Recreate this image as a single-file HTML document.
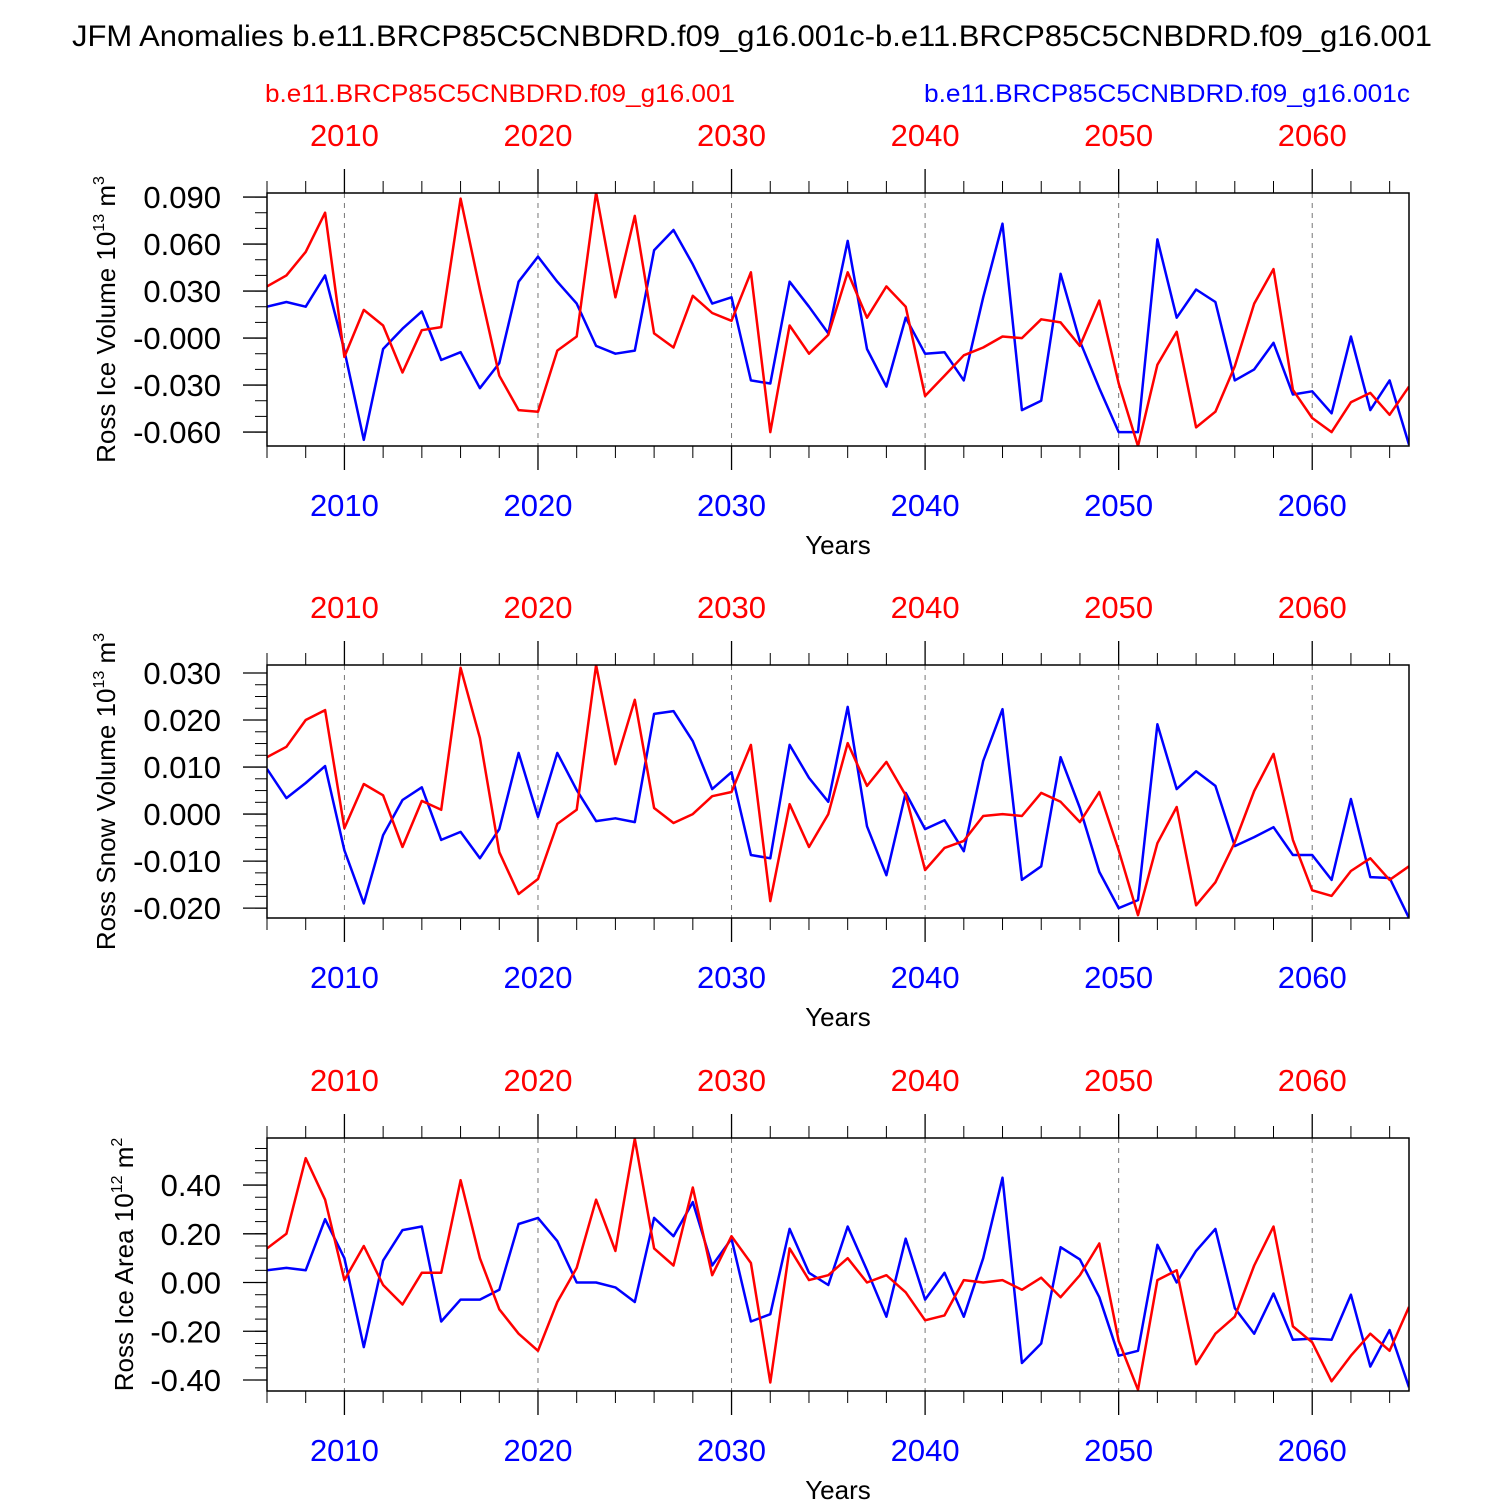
<!DOCTYPE html>
<html><head><meta charset="utf-8"><style>
body{margin:0;background:#fff}
svg{display:block;font-family:"Liberation Sans",Arial,sans-serif}
</style></head><body>
<svg id="c" width="1500" height="1500" viewBox="0 0 1500 1500">
<text x="752" y="46" font-size="30" text-anchor="middle" textLength="1360" lengthAdjust="spacingAndGlyphs">JFM Anomalies b.e11.BRCP85C5CNBDRD.f09_g16.001c-b.e11.BRCP85C5CNBDRD.f09_g16.001</text>
<text x="500" y="102" font-size="25" fill="#ff0000" text-anchor="middle" textLength="470" lengthAdjust="spacingAndGlyphs">b.e11.BRCP85C5CNBDRD.f09_g16.001</text>
<text x="1167" y="102" font-size="25" fill="#0000ff" text-anchor="middle" textLength="486" lengthAdjust="spacingAndGlyphs">b.e11.BRCP85C5CNBDRD.f09_g16.001c</text>
</svg>
<script>
const years=[];for(let y=2006;y<=2065;y++)years.push(y);
const iceVolRed=[0.033,0.040,0.055,0.080,-0.012,0.018,0.008,-0.022,0.005,0.007,0.089,0.031,-0.024,-0.046,-0.047,-0.008,0.001,0.093,0.026,0.078,0.003,-0.006,0.027,0.016,0.011,0.042,-0.060,0.008,-0.010,0.002,0.042,0.013,0.033,0.020,-0.037,-0.024,-0.011,-0.006,0.001,0.000,0.012,0.010,-0.005,0.024,-0.029,-0.069,-0.017,0.004,-0.057,-0.047,-0.018,0.022,0.044,-0.033,-0.051,-0.060,-0.041,-0.035,-0.049,-0.031];
const iceVolBlue=[0.020,0.023,0.020,0.040,-0.008,-0.065,-0.007,0.006,0.017,-0.014,-0.009,-0.032,-0.016,0.036,0.052,0.036,0.022,-0.005,-0.010,-0.008,0.056,0.069,0.047,0.022,0.026,-0.027,-0.029,0.036,0.020,0.003,0.062,-0.007,-0.031,0.013,-0.010,-0.009,-0.027,0.026,0.073,-0.046,-0.040,0.041,-0.002,-0.032,-0.060,-0.060,0.063,0.013,0.031,0.023,-0.027,-0.020,-0.003,-0.036,-0.034,-0.048,0.001,-0.046,-0.027,-0.068];
const snowRed=[0.0121,0.0143,0.0200,0.0221,-0.0030,0.0064,0.0040,-0.0070,0.0028,0.0009,0.0311,0.0162,-0.0081,-0.0170,-0.0138,-0.0021,0.0009,0.0317,0.0106,0.0243,0.0013,-0.0019,0.0000,0.0038,0.0047,0.0147,-0.0185,0.0021,-0.0070,0.0000,0.0151,0.0060,0.0111,0.0040,-0.0119,-0.0072,-0.0057,-0.0004,0.0000,-0.0004,0.0045,0.0026,-0.0017,0.0047,-0.0077,-0.0215,-0.0062,0.0015,-0.0194,-0.0145,-0.0060,0.0049,0.0128,-0.0055,-0.0162,-0.0174,-0.0121,-0.0094,-0.0140,-0.0111];
const snowBlue=[0.0096,0.0034,0.0066,0.0102,-0.0077,-0.0190,-0.0045,0.0030,0.0057,-0.0055,-0.0038,-0.0094,-0.0032,0.0130,-0.0006,0.0130,0.0051,-0.0015,-0.0009,-0.0017,0.0213,0.0219,0.0155,0.0053,0.0089,-0.0087,-0.0094,0.0147,0.0077,0.0026,0.0228,-0.0026,-0.0130,0.0045,-0.0032,-0.0013,-0.0079,0.0113,0.0223,-0.0140,-0.0111,0.0121,0.0013,-0.0123,-0.0200,-0.0183,0.0191,0.0053,0.0091,0.0060,-0.0068,-0.0049,-0.0028,-0.0087,-0.0087,-0.0140,0.0032,-0.0134,-0.0136,-0.0221];
const areaRed=[0.14,0.20,0.51,0.34,0.01,0.15,-0.01,-0.09,0.04,0.04,0.42,0.10,-0.11,-0.21,-0.28,-0.08,0.06,0.34,0.13,0.59,0.14,0.07,0.39,0.03,0.19,0.08,-0.41,0.14,0.01,0.03,0.10,0.00,0.03,-0.04,-0.155,-0.135,0.01,0.00,0.01,-0.03,0.02,-0.06,0.03,0.16,-0.24,-0.44,0.01,0.05,-0.335,-0.21,-0.14,0.07,0.23,-0.18,-0.245,-0.405,-0.30,-0.21,-0.28,-0.10];
const areaBlue=[0.05,0.06,0.05,0.26,0.10,-0.265,0.09,0.215,0.23,-0.16,-0.07,-0.07,-0.03,0.24,0.265,0.17,0.00,0.00,-0.02,-0.08,0.265,0.19,0.33,0.07,0.18,-0.16,-0.13,0.22,0.04,-0.01,0.23,0.05,-0.14,0.18,-0.07,0.04,-0.14,0.10,0.43,-0.33,-0.25,0.145,0.095,-0.06,-0.30,-0.28,0.155,0.00,0.13,0.22,-0.105,-0.21,-0.045,-0.235,-0.23,-0.235,-0.05,-0.345,-0.195,-0.43];
const decadeTicks=[2010,2020,2030,2040,2050,2060];
const ticks1=[0.09,0.06,0.03,0,-0.03,-0.06];
const labels1=["0.090","0.060","0.030","-0.000","-0.030","-0.060"];
const ticks2=[0.03,0.02,0.01,0,-0.01,-0.02];
const labels2=["0.030","0.020","0.010","0.000","-0.010","-0.020"];
const ticks3=[0.4,0.2,0,-0.2,-0.4];
const labels3=["0.40","0.20","0.00","-0.20","-0.40"];

const svg=document.getElementById('c');
const NS='http://www.w3.org/2000/svg';
function mk(tag,attrs,parent){const e=document.createElementNS(NS,tag);for(const k in attrs)e.setAttribute(k,attrs[k]);(parent||svg).appendChild(e);return e;}
const L=267,R=1409;
const x=yr=>L+(yr-2006)*(R-L)/59;

function panel(name,top,bot,vmax,vmin,ticks,labels,minorStep,red,blue,titleMain,titleExp,titleUnit,titleY){
  const g=mk('g',{});
  
  
  const y=v=>top+(vmax-v)*(bot-top)/(vmax-vmin);
  decadeTicks.forEach(d=>{const l=mk('line',{x1:x(d),x2:x(d),y1:top,y2:bot,stroke:'#777','stroke-width':1,'stroke-dasharray':'5,5'},g);
    });
  for(let yr=2006;yr<=2065;yr+=2){if(yr%10===0)continue;
    mk('line',{x1:x(yr),x2:x(yr),y1:top,y2:top-12,stroke:'#000','stroke-width':1},g);
    mk('line',{x1:x(yr),x2:x(yr),y1:bot,y2:bot+12,stroke:'#000','stroke-width':1},g);}
  decadeTicks.forEach(d=>{
    mk('line',{x1:x(d),x2:x(d),y1:top,y2:top-24,stroke:'#000','stroke-width':1.3},g);
    mk('line',{x1:x(d),x2:x(d),y1:bot,y2:bot+24,stroke:'#000','stroke-width':1.3},g);
    const t1=mk('text',{x:x(d),y:top-47,'font-size':31,fill:'#ff0000','text-anchor':'middle'},g);t1.textContent=d;
    
    const t2=mk('text',{x:x(d),y:bot+70,'font-size':31,fill:'#0000ff','text-anchor':'middle'},g);t2.textContent=d;
    
  });
  const start=Math.ceil(vmin/minorStep-1e-6);
  for(let i=start;i*minorStep<=vmax+1e-9;i++){const v=i*minorStep;
    mk('line',{x1:L,x2:L-12,y1:y(v),y2:y(v),stroke:'#000','stroke-width':1},g);}
  ticks.forEach((v,i)=>{
    mk('line',{x1:L,x2:L-24,y1:y(v),y2:y(v),stroke:'#000','stroke-width':1.3},g);
    const t=mk('text',{x:221,y:y(v)+11,'font-size':31,'text-anchor':'end'},g);t.textContent=labels[i];
    
  });
  const pts=arr=>arr.map((v,i)=>x(years[i]).toFixed(1)+','+y(v).toFixed(1)).join(' ');
  const cp=mk('clipPath',{id:'cp'+name},g);mk('rect',{x:L,y:top,width:R-L,height:bot-top},cp);
  const pb=mk('polyline',{points:pts(blue),fill:'none',stroke:'#0000ff','stroke-width':2.5,'stroke-linejoin':'round','clip-path':'url(#cp'+name+')'},g);
  
  const pr=mk('polyline',{points:pts(red),fill:'none',stroke:'#ff0000','stroke-width':2.5,'stroke-linejoin':'round','clip-path':'url(#cp'+name+')'},g);
  
  mk('rect',{x:L,y:top,width:R-L,height:bot-top,fill:'none',stroke:'#000','stroke-width':1.5},g);
  const xt=mk('text',{x:838,y:bot+108,'font-size':26,'text-anchor':'middle'},g);xt.textContent='Years';
  
  const yt=mk('text',{transform:`translate(${titleY},${(top+bot)/2}) rotate(-90)`,'font-size':26,'text-anchor':'middle'},g);
  
  yt.appendChild(document.createTextNode(titleMain+' 10'));
  const sp=document.createElementNS(NS,'tspan');sp.setAttribute('dy','-11');sp.setAttribute('font-size','16');sp.textContent=titleExp;yt.appendChild(sp);
  const sp2=document.createElementNS(NS,'tspan');sp2.setAttribute('dy','11');sp2.textContent=' '+titleUnit;yt.appendChild(sp2);
  svg.appendChild(g);
  return yt;
}
function addSup(yt,s){const sp=document.createElementNS(NS,'tspan');sp.setAttribute('dy','-11');sp.setAttribute('font-size','16');sp.textContent=s;yt.appendChild(sp);}
let t;
t=panel('panel-ice-volume',193,446,0.0926,-0.0689,ticks1,labels1,0.01,iceVolRed,iceVolBlue,'Ross Ice Volume','13','m',115);addSup(t,'3');
t=panel('panel-snow-volume',665,918,0.0317,-0.0221,ticks2,labels2,0.0025,snowRed,snowBlue,'Ross Snow Volume','13','m',115);addSup(t,'3');
t=panel('panel-ice-area',1138,1391,0.593,-0.445,ticks3,labels3,0.05,areaRed,areaBlue,'Ross Ice Area','12','m',133);addSup(t,'2');
</script>
</body></html>
